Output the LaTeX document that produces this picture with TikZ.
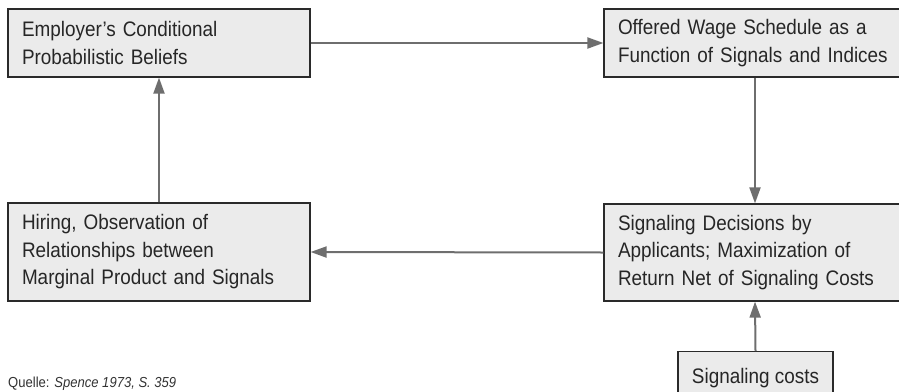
\documentclass[tikz,border=0pt]{standalone}
\usepackage{fontspec}
\setmainfont[FakeStretch=0.9]{Liberation Sans}
\usetikzlibrary{arrows.meta}
\definecolor{boxfill}{HTML}{EBEBEB}
\definecolor{boxline}{HTML}{2A2A2A}
\definecolor{arrowgray}{HTML}{6E6E6E}
\begin{document}
\begin{tikzpicture}[x=1pt,y=-1pt,
  box/.style={draw=boxline, line width=1.2pt, fill=boxfill, rectangle,
    inner xsep=14pt, inner ysep=0pt, align=left,
    font=\fontsize{21}{27.5}\selectfont, text=black!85},
  conn/.style={draw=arrowgray, line width=2pt, -{Triangle[length=16pt,width=11pt]}}]
\useasboundingbox (0,0) rectangle (899,391);
\clip (0,0) rectangle (899,391);
\node[box, minimum width=302pt, minimum height=68pt, text width=274pt] (b1) at (159,43)
  {Employer’s Conditional\\Probabilistic Beliefs};
\node[box, minimum width=302pt, minimum height=68pt, text width=274pt] (b2) at (755,43)
  {Offered Wage Schedule as a\\Function of Signals and Indices};
\node[box, minimum width=302pt, minimum height=98pt, text width=274pt] (b3) at (159,252)
  {Hiring, Observation of\\Relationships between\\Marginal Product and Signals};
\node[box, minimum width=302pt, minimum height=97pt, text width=274pt] (b4) at (755,252.5)
  {Signaling Decisions by\\Applicants; Maximization of\\Return Net of Signaling Costs};
\node[box, minimum width=155pt, minimum height=52pt, align=center, inner xsep=0pt, anchor=north] (b5) at (755.5,351)
  {Signaling costs};
\draw[conn] (b1.east) -- (b2.west);
\draw[conn] (b2.south) -- (b4.north);
\draw[conn] (b4.west) -- (b3.east);
\draw[conn] (b3.north) -- (b1.south);
\draw[conn] (b5.north) -- (b4.south);
\node[anchor=base west, inner sep=0pt, font=\fontsize{14.5}{17}\selectfont, text=black!80] (src) at (8,387)
  {Quelle: \textit{Spence 1973, S. 359}};
\end{tikzpicture}
\end{document}
